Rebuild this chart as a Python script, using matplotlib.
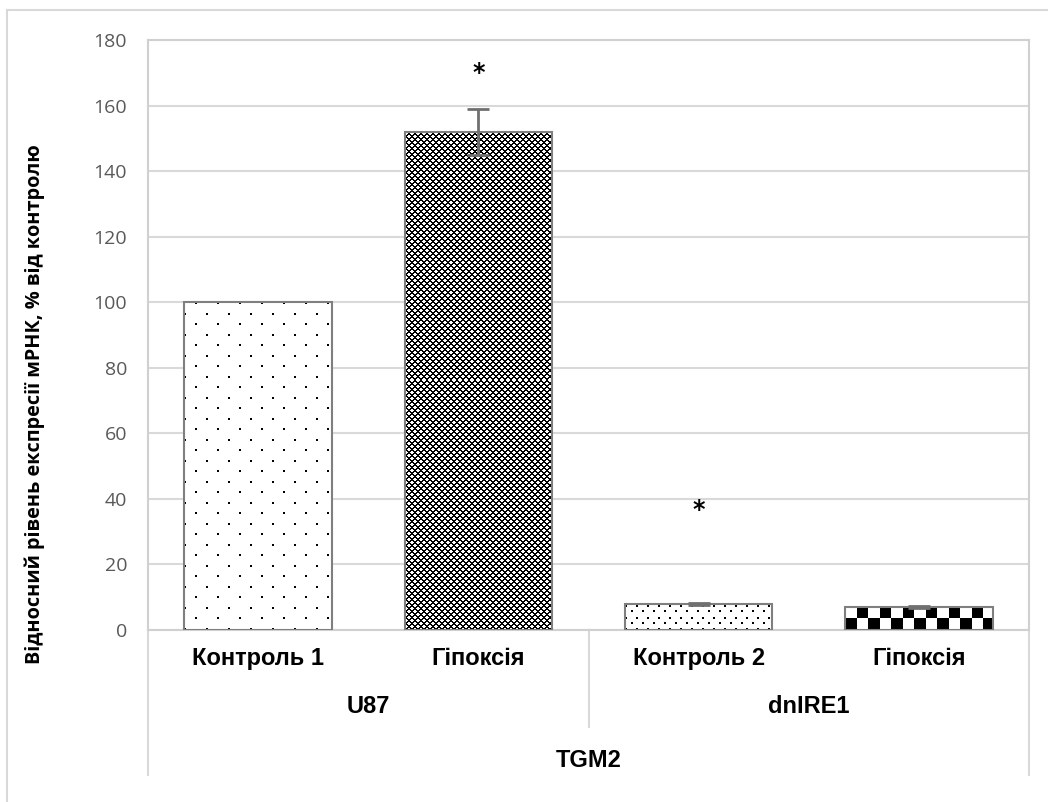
import numpy as np
import matplotlib.pyplot as plt
import matplotlib.lines as mlines

categories = ["Контроль 1", "Гіпоксія", "Контроль 2", "Гіпоксія"]
groups = ["U87", "dnIRE1"]
gene = "TGM2"
values = [100, 152, 8, 7]
errors = [0, 7, 0.3, 0.2]
stars = [None, 170, 36.5, None]
yticks = [0, 20, 40, 60, 80, 100, 120, 140, 160, 180]
ylabel = "Відносний рівень експресії мРНК, % від контролю"
patterns = ['sparse_dots', 'fine_cross', 'dense_dots', 'checker']


def texture(kind, h, w):
    # 1 = white, 0 = black, built on the bar's own pixel grid
    yy, xx = np.mgrid[0:h, 0:w]
    img = np.ones((h, w))
    if kind == 'sparse_dots':
        a = ((yy % 21) < 2) & ((xx % 22) < 2)
        b = (((yy + 10) % 21) < 2) & (((xx + 11) % 22) < 2)
        img[a | b] = 0
    elif kind == 'dense_dots':
        a = ((yy % 11) < 2) & ((xx % 11) < 2)
        b = (((yy + 5) % 11) < 2) & (((xx + 5) % 11) < 2)
        img[a | b] = 0
    elif kind == 'fine_cross':
        a = ((xx + yy) % 6) < 2
        b = ((xx - yy) % 6) < 2
        img[a | b] = 0
    elif kind == 'checker':
        cell = h / 2.0
        img = (((yy // cell).astype(int) + (xx // cell).astype(int)) % 2).astype(float)
    return img


fig = plt.figure(figsize=(10.48, 8.02), dpi=100)
ax = fig.add_axes([0.1412, 0.2145, 0.8407, 0.7356])

x = np.arange(len(categories))
width = 0.67

bars = ax.bar(x, values, width, color='none', edgecolor='#7f7f7f', linewidth=1.5, zorder=4)
ax.set_xlim(-0.5, len(categories) - 0.5)
ax.set_ylim(0, 180)

# fill each bar with its pattern
for b, kind in zip(bars, patterns):
    x0, x1 = b.get_x(), b.get_x() + b.get_width()
    p0 = ax.transData.transform((x0, 0))
    p1 = ax.transData.transform((x1, b.get_height()))
    w_px = int(round(p1[0] - p0[0]))
    h_px = int(round(p1[1] - p0[1]))
    img = texture(kind, h_px, w_px)
    ax.imshow(img, cmap='gray', vmin=0, vmax=1, interpolation='nearest',
              extent=[x0, x1, 0, b.get_height()], aspect='auto', origin='lower', zorder=3)

err_idx = [i for i in range(len(errors)) if errors[i] > 0]
ax.errorbar(x[err_idx], [values[i] for i in err_idx], yerr=[errors[i] for i in err_idx],
            fmt='none', ecolor='#707070', elinewidth=2, capsize=8, capthick=2, zorder=5)

for i, s in enumerate(stars):
    if s is not None:
        ax.text(x[i], s, '*', ha='center', va='center', fontsize=17, fontweight='bold')

ax.set_yticks(yticks)
ax.tick_params(axis='y', length=0, labelsize=14, labelcolor='#595959', pad=15)
ax.tick_params(axis='x', length=0)
for t in ax.get_yticklabels():
    t.set_fontfamily('Open Sans')
ax.grid(axis='y', color='#d9d9d9', linewidth=1.5, zorder=0)
ax.set_axisbelow(True)
for sp in ax.spines.values():
    sp.set_color('#d0d0d0')
    sp.set_linewidth(1.5)

ax.set_xticks(x)
ax.set_xticklabels(categories, fontsize=17, fontweight='bold', family='Liberation Sans')
ax.tick_params(axis='x', pad=12)

# group labels and gene label below
tr = ax.get_xaxis_transform()
for gi, g in enumerate(groups):
    ax.text(x[2 * gi] + 0.5, -0.13, g, transform=tr, ha='center', va='center',
            fontsize=17, fontweight='bold', family='Liberation Sans')
ax.text(np.mean(x), -0.221, gene, transform=tr, ha='center', va='center',
        fontsize=17, fontweight='bold', family='Liberation Sans')

for xv, y0 in [(-0.5, -0.2458), (1.5, -0.164), (3.5, -0.2458)]:
    ax.add_line(mlines.Line2D([xv, xv], [0, y0], transform=tr, color='#d9d9d9',
                              linewidth=1.5, clip_on=False))

ax.set_ylabel(ylabel, fontsize=14.3, fontweight='bold', family='Open Sans')
ax.yaxis.set_label_coords(-0.117, 0.383)

# outer chart frame
fig.add_artist(mlines.Line2D([7 / 1048, 7 / 1048], [0, 1 - 10 / 802], color='#d9d9d9', linewidth=1.5))
fig.add_artist(mlines.Line2D([7 / 1048, 1], [1 - 10 / 802, 1 - 10 / 802], color='#d9d9d9', linewidth=1.5))

plt.savefig('out.png', dpi=100)
